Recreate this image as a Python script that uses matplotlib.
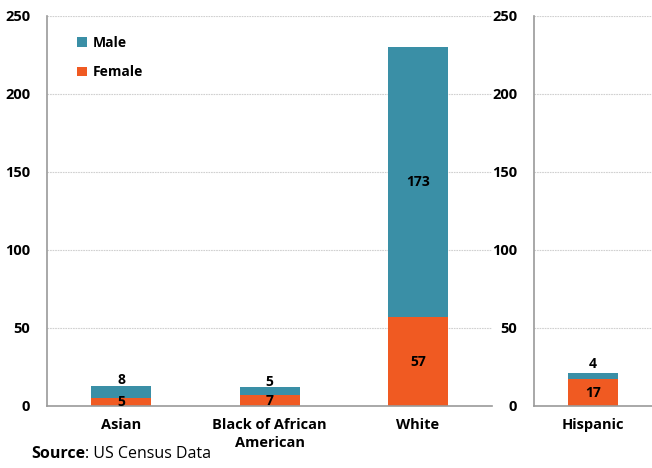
import numpy as np
import matplotlib
matplotlib.use('Agg')
from matplotlib import pyplot as plt

plt.rcParams['font.family'] = ['Open Sans', 'DejaVu Sans']

# data
categories = ['Asian', 'Black of African\nAmerican', 'White']
female = [5, 7, 57]
male = [8, 5, 173]
hisp_category = ['Hispanic']
hisp_female = [17]
hisp_male = [4]
yticks = [0, 50, 100, 150, 200, 250]

MALE_C = '#3A8FA6'
FEMALE_C = '#F05A22'
GRID_C = '#D0D0D0'
SPINE_C = '#9A9A9A'

fig = plt.figure(figsize=(6.52, 4.68), dpi=100)
ax = fig.add_axes([0.072, 0.1325, 0.683, 0.8335])
ax2 = fig.add_axes([0.819, 0.1325, 0.181, 0.8335])


def style(a):
    a.set_ylim(0, 250)
    a.set_yticks(yticks)
    a.grid(axis='y', color=GRID_C, linestyle=(0, (1.5, 0.8)), linewidth=0.8)
    a.set_axisbelow(True)
    for s in ['top', 'right']:
        a.spines[s].set_visible(False)
    for s in ['left', 'bottom']:
        a.spines[s].set_color(SPINE_C)
        a.spines[s].set_linewidth(1.2)
    a.tick_params(axis='y', length=0, pad=12, labelsize=10.5)
    a.tick_params(axis='x', length=0, pad=9, labelsize=10.5)
    for lab in a.get_yticklabels() + a.get_xticklabels():
        lab.set_fontweight('bold')


def draw(a, cats, fem, mal, width, above=4):
    x = np.arange(len(cats))
    a.bar(x, fem, width, color=FEMALE_C, label='Female')
    a.bar(x, mal, width, bottom=fem, color=MALE_C, label='Male')
    a.set_xticks(x)
    a.set_xticklabels(cats, linespacing=1.3)
    for xi, f, m in zip(x, fem, mal):
        a.text(xi, f / 2, str(f), ha='center', va='center', fontsize=10, fontweight='bold')
        if m > 30:
            a.text(xi, f + m / 2, str(m), ha='center', va='center', fontsize=10, fontweight='bold')
        else:
            # small segments get their label just above the bar
            a.text(xi, f + m + above, str(m), ha='center', va='center', fontsize=10, fontweight='bold')


draw(ax, categories, female, male, 0.405, above=3.5)
ax.set_xlim(-0.5, 2.5)
style(ax)

draw(ax2, hisp_category, hisp_female, hisp_male, 0.42, above=6)
ax2.set_xlim(-0.5, 0.5)
style(ax2)

h, l = ax.get_legend_handles_labels()
ax.legend(h[::-1], l[::-1], loc='upper left', bbox_to_anchor=(0.04, 0.98),
          frameon=False, handlelength=0.7, handleheight=0.7, labelspacing=1.1,
          handletextpad=0.4, prop={'weight': 'bold', 'size': 10})

# source line: bold word followed by regular text
src = fig.text(0.048, 0.022, 'Source', fontsize=11.5, fontweight='bold', ha='left', va='baseline')
ax.annotate(': US Census Data', xy=(1, 0), xycoords=src, fontsize=11.5,
            ha='left', va='bottom', annotation_clip=False)

fig.savefig('out.png', dpi=100)
